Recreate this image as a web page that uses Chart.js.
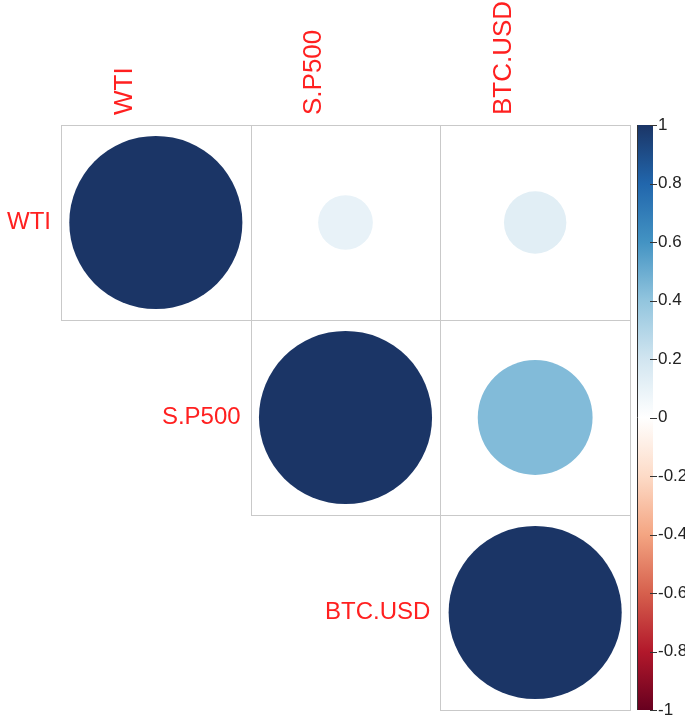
<!DOCTYPE html>
<html>
<head>
<meta charset="utf-8">
<script src="https://cdn.jsdelivr.net/npm/chart.js@4"></script>
<style>
  html, body { margin: 0; padding: 0; background: #ffffff; }
  canvas { display: block; }
</style>
</head>
<body>
<canvas id="corr" width="685" height="722"></canvas>
<script>
// Correlation matrix of the three series (upper triangle is drawn)
const variables = ['WTI', 'S.P500', 'BTC.USD'];
const corrWTI   = [1.00, 0.10, 0.13];
const corrSP500 = [0.10, 1.00, 0.44];
const corrBTC   = [0.13, 0.44, 1.00];
const colorbarTicks = [1, 0.8, 0.6, 0.4, 0.2, 0, -0.2, -0.4, -0.6, -0.8, -1];

const corrRows = [corrWTI, corrSP500, corrBTC];

// RdBu diverging palette, ordered from -1 to +1
const palette = ['#67001F', '#B2182B', '#D6604D', '#F4A582', '#FDDBC7', '#FFFFFF',
                 '#D1E5F0', '#92C5DE', '#4393C3', '#2166AC', '#1B3566'];

function hexToRgb(h) {
  const n = parseInt(h.slice(1), 16);
  return [(n >> 16) & 255, (n >> 8) & 255, n & 255];
}
function colorFor(v) {
  const t = (Math.max(-1, Math.min(1, v)) + 1) / 2 * (palette.length - 1);
  const i = Math.min(palette.length - 2, Math.floor(t));
  const f = t - i;
  const a = hexToRgb(palette[i]), b = hexToRgb(palette[i + 1]);
  const c = a.map((ch, k) => Math.round(ch + (b[k] - ch) * f));
  return `rgb(${c[0]},${c[1]},${c[2]})`;
}

// One point per cell of the upper triangle
const cells = [];
corrRows.forEach((row, r) => {
  row.forEach((v, c) => { if (c >= r) cells.push({ x: c, y: r, v: v }); });
});

const labelFont = '"Liberation Sans", Arial, sans-serif';

// Cell frames, row labels on the diagonal and the colour legend
const corrDecor = {
  id: 'corrDecor',
  beforeDatasetsDraw(chart) {
    const { ctx, scales: { x, y, cb } } = chart;
    ctx.save();

    ctx.strokeStyle = '#c9c9c9';
    ctx.lineWidth = 1;
    corrRows.forEach((row, r) => {
      row.forEach((v, c) => {
        if (c < r) return;
        const x0 = Math.round(x.getPixelForValue(c - 0.5)) + 0.5;
        const x1 = Math.round(x.getPixelForValue(c + 0.5)) + 0.5;
        const y0 = Math.round(y.getPixelForValue(r - 0.5)) + 0.5;
        const y1 = Math.round(y.getPixelForValue(r + 0.5)) + 0.5;
        ctx.strokeRect(x0, y0, x1 - x0, y1 - y0);
      });
    });

    ctx.fillStyle = '#ff2020';
    ctx.font = '24px ' + labelFont;
    ctx.textAlign = 'right';
    ctx.textBaseline = 'middle';
    variables.forEach((name, i) => {
      ctx.fillText(name, x.getPixelForValue(i - 0.5) - 10, y.getPixelForValue(i));
    });

    // colour legend bar
    const top = cb.getPixelForValue(1);
    const bot = cb.getPixelForValue(-1);
    const bx = cb.left + 7, bw = 16;
    const g = ctx.createLinearGradient(0, bot, 0, top);
    palette.forEach((col, i) => g.addColorStop(i / (palette.length - 1), col));
    ctx.fillStyle = g;
    ctx.fillRect(bx, top, bw, bot - top);
    ctx.strokeStyle = '#333333';
    ctx.beginPath();
    ctx.moveTo(bx + 0.5, top);
    ctx.lineTo(bx + 0.5, bot);
    colorbarTicks.forEach(v => {
      const py = Math.round(cb.getPixelForValue(v)) + 0.5;
      ctx.moveTo(bx + bw - 3, py);
      ctx.lineTo(bx + bw + 4, py);
    });
    ctx.stroke();

    ctx.restore();
  }
};

new Chart(document.getElementById('corr'), {
  type: 'scatter',
  data: {
    datasets: [{
      data: cells,
      pointStyle: 'circle',
      pointBorderWidth: 0,
      pointBackgroundColor: ctx => colorFor(ctx.raw ? ctx.raw.v : 0),
      pointRadius: ctx => {
        const { x, y } = ctx.chart.scales;
        const cw = Math.abs(x.getPixelForValue(1) - x.getPixelForValue(0));
        const ch = Math.abs(y.getPixelForValue(1) - y.getPixelForValue(0));
        const v = ctx.raw ? ctx.raw.v : 0;
        return 0.45 * (cw + ch) / 2 * Math.sqrt(Math.abs(v));
      }
    }]
  },
  options: {
    responsive: false,
    animation: false,
    events: [],
    layout: { padding: { left: 61, right: 0, top: 0, bottom: 12 } },
    plugins: { legend: { display: false }, tooltip: { enabled: false } },
    scales: {
      x: {
        type: 'linear',
        position: 'top',
        min: -0.5,
        max: 2.5,
        grid: { display: false, drawTicks: false },
        border: { display: false },
        afterBuildTicks: s => { s.ticks = variables.map((_, i) => ({ value: i })); },
        afterFit: s => { s.height = 125; s.paddingLeft = 0; s.paddingRight = 0; },
        ticks: {
          autoSkip: false,
          minRotation: 90,
          maxRotation: 90,
          padding: 10,
          color: '#ff2020',
          font: { family: labelFont, size: 26 },
          callback: (value, index) => variables[index]
        }
      },
      y: {
        type: 'linear',
        reverse: true,
        min: -0.5,
        max: 2.5,
        display: false
      },
      cb: {
        type: 'linear',
        axis: 'y',
        position: 'right',
        min: -1,
        max: 1,
        grid: { display: false, drawTicks: false },
        border: { display: false },
        afterBuildTicks: s => { s.ticks = colorbarTicks.map(v => ({ value: v })); },
        afterFit: s => { s.width = 55; s.paddingTop = 0; s.paddingBottom = 0; },
        ticks: {
          autoSkip: false,
          padding: 28,
          color: '#222222',
          font: { family: labelFont, size: 17 },
          callback: v => String(Math.round(v * 10) / 10)
        }
      }
    }
  },
  plugins: [corrDecor]
});
</script>
</body>
</html>
